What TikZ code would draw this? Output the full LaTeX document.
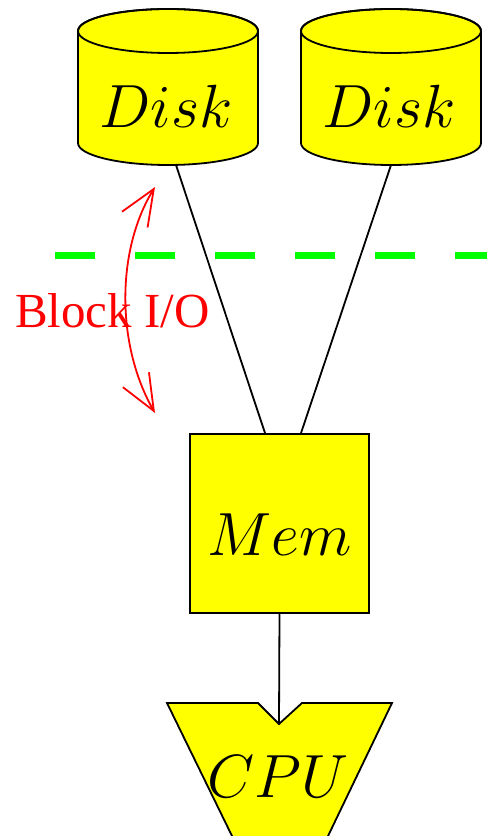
\RequirePackage{fix-cm}
\documentclass[tikz,border=0pt]{standalone}
\usepackage{fontspec}
\newfontfamily\timesfont{Liberation Serif}
\usetikzlibrary{arrows.meta,calc}
\definecolor{pyellow}{RGB}{255,255,0}
\definecolor{pgreen}{RGB}{0,255,0}
\definecolor{pred}{RGB}{255,0,0}
\tikzset{
  yshape/.style={fill=pyellow, draw=black, line width=1.8pt},
  bigtext/.style={font=\fontsize{61}{63}\selectfont},
  conn/.style={draw=black, line width=1.8pt},
  barb/.tip={Straight Barb[length=36pt,width=30pt]}
}
\begin{document}
\begin{tikzpicture}[x=1pt,y=1pt]
\useasboundingbox (0,0) rectangle (487,836);
\clip (0,0) rectangle (487,836);
% disk 1
\path[yshape] (78,805) -- (78,693) arc[start angle=180,end angle=360,x radius=90,y radius=22] -- (258,805) arc[start angle=0,end angle=180,x radius=90,y radius=22] -- cycle;
\draw[line width=1.8pt] (168,805) ellipse[x radius=90,y radius=22];
\node[bigtext, anchor=base] (d1) at (166,708) {$Disk$};
\coordinate (d1s) at (176,671);
% disk 2
\path[yshape] (301,805) -- (301,693) arc[start angle=180,end angle=360,x radius=90,y radius=22] -- (481,805) arc[start angle=0,end angle=180,x radius=90,y radius=22] -- cycle;
\draw[line width=1.8pt] (391,805) ellipse[x radius=90,y radius=22];
\node[bigtext, anchor=base] (d2) at (389,708) {$Disk$};
\coordinate (d2s) at (391,671);
% memory
\node[yshape, bigtext, minimum width=179pt, minimum height=179pt, inner sep=0pt, text height=64pt, text depth=0pt] (mem) at (279.5,312.5) {$Mem$};
% cpu
\path[yshape] (167,133) -- (258,133) -- (279,112) -- (302,133) -- (392,133) -- (318.4,-20) -- (241.8,-20) -- cycle;
\coordinate (cpuin) at (279,112);
\node[bigtext, anchor=base] (cpu) at (278,38) {$CPU$};
% connectors
\draw[conn] (d1s) -- ($(mem.north)+(-14.5,0)$);
\draw[conn] (d2s) -- ($(mem.north)+(21.5,0)$);
\draw[conn] (mem.south) -- (cpuin);
% boundary
\coordinate (gA) at (55,580);
\coordinate (gB) at (530,580);
\draw[pgreen, line width=7pt, dash pattern=on 40pt off 40pt] (gA) -- (gB);
% block I/O
\coordinate (ioA) at (155,649);
\coordinate (ioB) at (155,423);
\draw[pred, line width=1.8pt, barb-barb] (ioA) .. controls (116,586) and (116,491) .. (ioB);
\node[text=pred, font=\timesfont\fontsize{49}{51}\selectfont, anchor=base] (io) at (112.5,508) {Block I/O};
\end{tikzpicture}
\end{document}
